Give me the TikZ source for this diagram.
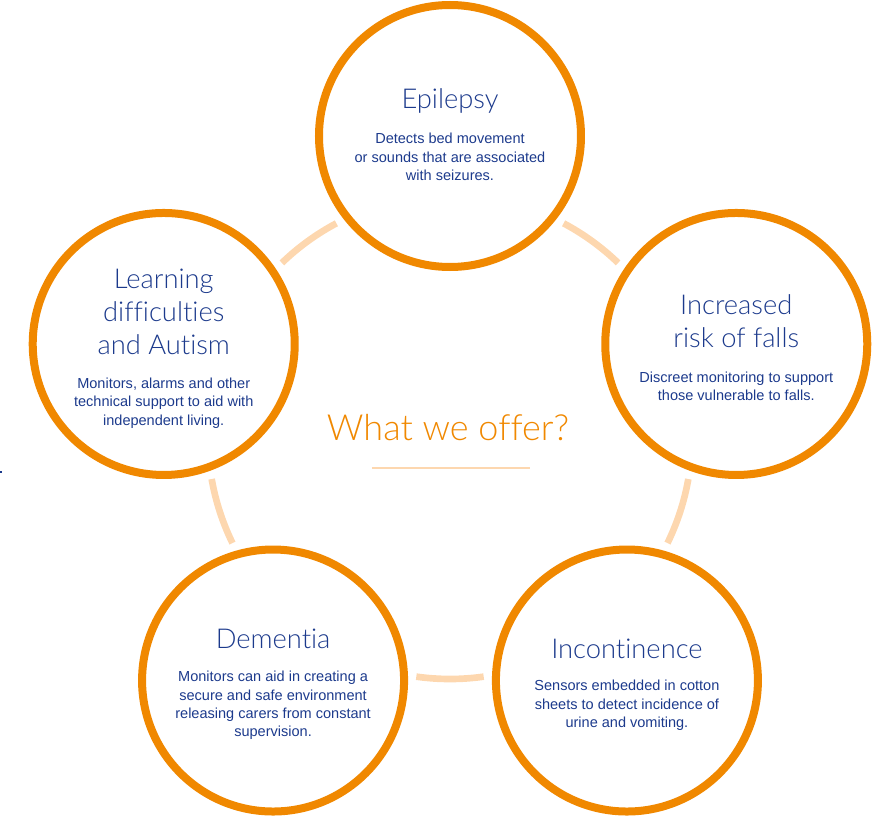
\documentclass[tikz,border=0pt]{standalone}
\usepackage{fontspec}
\setmainfont{Liberation Sans}
\newfontfamily\thinfont{Lato Light}[Ligatures={NoCommon,NoRare,NoContextual}]
\usepackage{tikz}
\usetikzlibrary{calc,positioning}
\definecolor{offerorange}{RGB}{240,136,0}
\definecolor{offerpale}{RGB}{253,215,175}
\definecolor{offerblue}{RGB}{28,58,140}

\tikzset{
  spot/.style={circle,draw=offerorange,line width=6pt,minimum size=196.5pt,inner sep=0pt},
  ring/.style={draw=offerpale,line width=5pt},
  head/.style={align=center,text=offerblue,font=\thinfont\fontsize{20.5}{25}\selectfont},
  blurb/.style={align=center,text=offerblue,font=\fontsize{10.9}{13.75}\selectfont}
}

\begin{document}
\begin{tikzpicture}[x=0.75pt,y=0.75pt]
\useasboundingbox (-450,-381) rectangle (422,437);
\coordinate (hub) at (0,0);
% the five topics
\node[spot] (epilepsy) at (90:301) {};
\node[spot] (learning) at (162:301) {};
\node[spot] (falls) at (18:301) {};
\node[spot] (dementia) at (234:301) {};
\node[spot] (incont) at (306:301) {};
% pale ring between them
\foreach \mid in {126,54,-18,270,198}
  \draw[ring] ([shift=({\mid-8}:242)]hub) arc ({\mid-8}:{\mid+8}:242);
\node[head] at ($(epilepsy)+(0,35)$) {Epilepsy};
\node[blurb] at ($(epilepsy)+(0,-21)$) {Detects bed movement\\or sounds that are associated\\with seizures.};
\node[head] at ($(learning)+(0,32)$) {Learning\\difficulties\\and Autism};
\node[blurb] at ($(learning)+(0,-59)$) {Monitors, alarms and other\\technical support to aid with\\independent living.};
\node[head] at ($(falls)+(0,23)$) {Increased\\risk of falls};
\node[blurb] at ($(falls)+(0,-42)$) {Discreet monitoring to support\\those vulnerable to falls.};
\node[head] at ($(dementia)+(0,42)$) {Dementia};
\node[blurb] at ($(dementia)+(0,-25)$) {Monitors can aid in creating a\\secure and safe environment\\releasing carers from constant\\supervision.};
\node[head] at ($(incont)+(0,32)$) {Incontinence};
\node[blurb] at ($(incont)+(0,-25)$) {Sensors embedded in cotton\\sheets to detect incidence of\\urine and vomiting.};
% middle
\node[text=offerorange,font=\thinfont\fontsize{27}{30}\selectfont] (offer) at ($(hub)+(-2,9)$) {What we offer?};
\draw[offerpale,line width=0.8pt] ($(hub)+(-78,-31)$) coordinate (ulA) -- ($(hub)+(80,-31)$) coordinate (ulB);
\draw[offerblue,line width=0.8pt] (-450,-35) -- (-448,-35);
\end{tikzpicture}
\end{document}
